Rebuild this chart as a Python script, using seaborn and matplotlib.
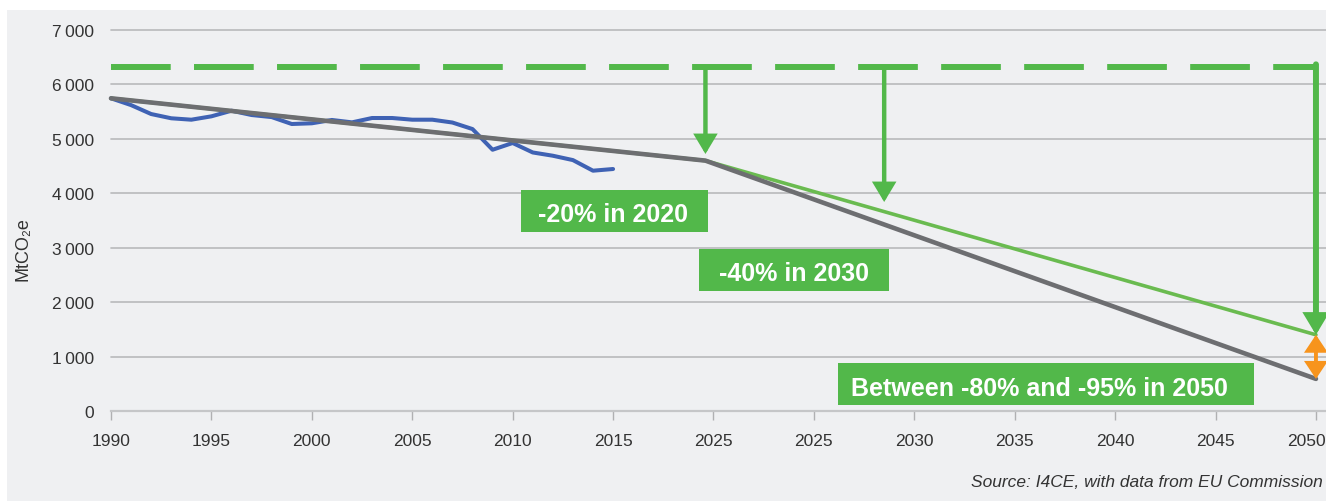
import matplotlib
matplotlib.use("Agg")
import matplotlib.pyplot as plt
from matplotlib.patches import Rectangle
from matplotlib.transforms import ScaledTranslation
import pandas as pd
import seaborn as sns

# Category positions on the x axis (one slot per label)
tick_labels = ["1990", "1995", "2000", "2005", "2010", "2015", "2025", "2025",
               "2030", "2035", "2040", "2045", "2050"]
y_ticks = [0, 1000, 2000, 3000, 4000, 5000, 6000, 7000]

# Historical emissions, MtCO2e
hist_years = list(range(1990, 2016))
hist_emissions = [5745, 5620, 5456, 5378, 5352, 5414, 5517, 5438, 5400, 5273,
                  5286, 5347, 5303, 5383, 5383, 5352, 5352, 5300, 5180, 4800,
                  4924, 4750, 4690, 4610, 4415, 4446]

# Reduction pathways (x in axis slots)
path_x = [0.0, 5.92, 12.0]
path_high = [5745, 4600, 1400]   # -80 % pathway
path_low = [5745, 4600, 590]     # -95 % pathway

# Reference level and reduction targets
reference_level = 6314
target_x = [5.92, 7.70, 12.0]
target_values = [4722, 3840, 1400]
target_labels = ["-20% in 2020", "-40% in 2030", "Between -80% and -95% in 2050"]

BG = "#eff0f2"
GREEN = "#52b84a"
GREEN_LINE = "#6abb50"
BLUE = "#3f62b4"
GRAY_LINE = "#6d6e71"
ORANGE = "#f7941d"
GRID = "#b8b9bb"
TEXT = "#333333"

sns.set_theme(style="white")
plt.rcParams["font.family"] = ["Liberation Sans", "DejaVu Sans"]

W, H = 1326, 502
fig = plt.figure(figsize=(W / 100, H / 100), dpi=100, facecolor="white")
fig.add_artist(Rectangle((7 / W, 0), 1, (H - 11) / H, transform=fig.transFigure,
                         facecolor=BG, edgecolor="none", zorder=-5))
ax = fig.add_axes([111 / W, 90 / H, 1215 / W, 381 / H])
ax.set_facecolor("none")

# Pathways
paths = pd.DataFrame({
    "x": path_x + path_x,
    "value": path_high + path_low,
    "path": ["high"] * len(path_x) + ["low"] * len(path_x),
})
sns.lineplot(data=paths, x="x", y="value", hue="path",
             palette={"high": GREEN_LINE, "low": GRAY_LINE},
             hue_order=["high", "low"], legend=False, ax=ax, zorder=3)
for line, lw in zip(ax.lines, [2.6, 3.3]):
    line.set_linewidth(lw)
    line.set_solid_capstyle("round")

# Historical series
hist = pd.DataFrame({"x": [(y - 1990) / 5 for y in hist_years], "value": hist_emissions})
sns.lineplot(data=hist, x="x", y="value", color=BLUE, lw=2.9, ax=ax, zorder=2,
             solid_capstyle="round", solid_joinstyle="round")

# Reference level (dashed)
ax.plot([path_x[0], path_x[-1]], [reference_level] * 2, color=GREEN, lw=4.3,
        linestyle=(0, (10, 3.9)), dash_capstyle="butt", zorder=5)

for line in ax.lines:
    line.set_clip_on(False)

# Target arrows
for i, (tx, tv) in enumerate(zip(target_x, target_values)):
    last = i == len(target_x) - 1
    ax.annotate("", xy=(tx, tv), xytext=(tx, reference_level + (55 if last else 0)),
                arrowprops=dict(arrowstyle="-|>,head_length=0.5,head_width=0.3",
                                mutation_scale=20, lw=4.3 if last else 3.2,
                                color=GREEN, shrinkA=0, shrinkB=0,
                                joinstyle="miter"),
                zorder=6, annotation_clip=False)

# Range between the two 2050 pathways
ax.annotate("", xy=(path_x[-1], path_low[-1]), xytext=(path_x[-1], path_high[-1]),
            arrowprops=dict(arrowstyle="<|-|>,head_length=0.45,head_width=0.3",
                            mutation_scale=20, lw=2.8, color=ORANGE,
                            shrinkA=0, shrinkB=0, joinstyle="miter"),
            zorder=6, annotation_clip=False)

# Target label boxes
boxes = [
    ((4.084, 3289), 1.862, 771, (4.999, 3485)),
    ((5.857, 2210), 1.892, 766, (6.800, 2413)),
    ((7.241, 110), 4.144, 772, (9.243, 294)),
]
for (xy, bw, bh, txy), label in zip(boxes, target_labels):
    ax.add_patch(Rectangle(xy, bw, bh, facecolor=GREEN, edgecolor="none", zorder=7,
                           clip_on=False))
    ax.text(txy[0], txy[1], label, color="white", fontsize=18, fontweight="bold",
            ha="center", va="baseline", zorder=8)

# Axes styling
ax.set_xlim(0, 12.1)
ax.set_ylim(0, 7000)
ax.set_xticks(range(len(tick_labels)))
ax.set_xticklabels(tick_labels)
ax.set_yticks(y_ticks)
ax.set_yticklabels([f"{v // 1000}\u2009000" if v else "0" for v in y_ticks])
ax.yaxis.grid(True, color=GRID, lw=1.2)
ax.xaxis.grid(False)
ax.set_axisbelow(True)
for gl in ax.get_ygridlines():
    gl.set_clip_on(False)
for side in ["top", "right", "left"]:
    ax.spines[side].set_visible(False)
ax.spines["bottom"].set_color("#c5c6c8")
ax.spines["bottom"].set_linewidth(1.6)
ax.tick_params(axis="x", bottom=True, length=6.5, width=1, color="#b0b0b2",
               pad=9.5, labelsize=12.5, labelcolor=TEXT)
ax.tick_params(axis="y", left=False, length=0, pad=12, labelsize=12.5,
               labelcolor=TEXT)
# keep the last year label inside the figure edge
last_label = ax.get_xticklabels()[-1]
last_label.set_transform(last_label.get_transform()
                         + ScaledTranslation(-0.10, 0, fig.dpi_scale_trans))

ax.set_xlabel("")
ax.set_ylabel("MtCO\u2082e", fontsize=13, color=TEXT)
ax.yaxis.set_label_coords(-0.0653, 0.428)

fig.text(1323 / W, (H - 487) / H, "Source: I4CE, with data from EU Commission",
         ha="right", va="baseline", fontsize=12.5, style="italic", color=TEXT)

fig.savefig("out.png", dpi=100, facecolor="white")
